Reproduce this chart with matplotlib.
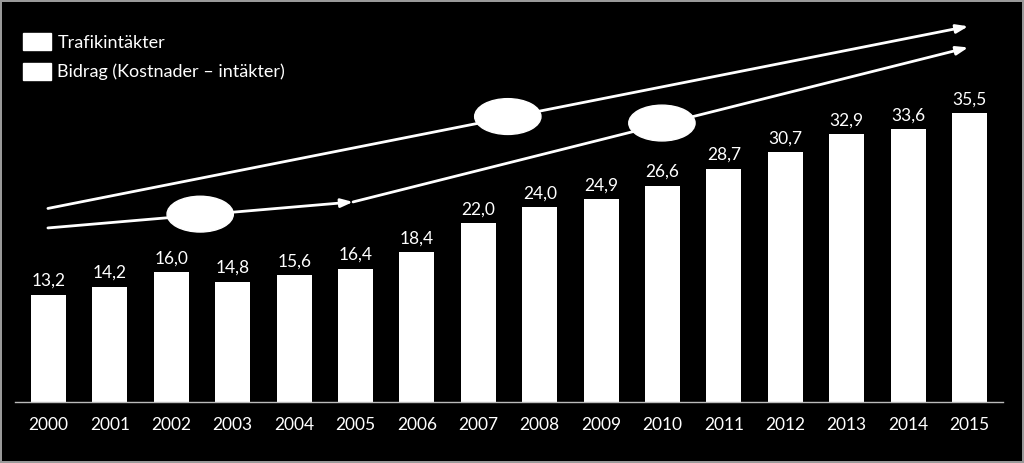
import matplotlib
matplotlib.use("Agg")
import matplotlib.pyplot as plt
from matplotlib.patches import Ellipse, Patch

plt.rcParams['font.family'] = ['Lato', 'DejaVu Sans']

# data
years = ['2000', '2001', '2002', '2003', '2004', '2005', '2006', '2007',
         '2008', '2009', '2010', '2011', '2012', '2013', '2014', '2015']
values = [13.2, 14.2, 16.0, 14.8, 15.6, 16.4, 18.4, 22.0,
          24.0, 24.9, 26.6, 28.7, 30.7, 32.9, 33.6, 35.5]
value_labels = ['13,2', '14,2', '16,0', '14,8', '15,6', '16,4', '18,4', '22,0',
                '24,0', '24,9', '26,6', '28,7', '30,7', '32,9', '33,6', '35,5']
legend_labels = ['Trafikintäkter', 'Bidrag (Kostnader – intäkter)']

fig = plt.figure(figsize=(10.24, 4.63), dpi=100, facecolor='black')
fig.patch.set_edgecolor('#999999')
fig.patch.set_linewidth(1.5)

ax = fig.add_axes([15 / 1024, 61 / 463, 988 / 1024, 392 / 463])
ax.set_facecolor('black')

x = list(range(len(years)))
ax.bar(x, values, width=0.57, color='white', zorder=2)

for xi, v, lab in zip(x, values, value_labels):
    ax.annotate(lab, (xi, v), xytext=(0, 4), textcoords='offset points',
                ha='center', va='bottom', color='white', fontsize=12.5)

ax.set_xlim(-0.546, 15.545)
ax.set_ylim(0, 48.2)
ax.set_xticks(x)
ax.set_xticklabels(years, color='white', fontsize=12.5)
ax.tick_params(axis='x', length=0, pad=11)
ax.set_yticks([])
for side in ['top', 'right', 'left']:
    ax.spines[side].set_visible(False)
ax.spines['bottom'].set_color('#bbbbbb')
ax.spines['bottom'].set_linewidth(1)

# trend arrows
arrow = dict(arrowstyle='-|>,head_length=0.7,head_width=0.25', color='white', lw=2,
             shrinkA=0, shrinkB=0)
ax.annotate('', xy=(14.98, 46.2), xytext=(-0.01, 23.8), arrowprops=arrow)
ax.annotate('', xy=(4.96, 24.6), xytext=(-0.01, 21.4), arrowprops=arrow)
ax.annotate('', xy=(14.98, 43.6), xytext=(4.96, 24.6), arrowprops=arrow)

# ellipses
for cx, cy in [(2.47, 23.1), (7.48, 35.1), (9.99, 34.3)]:
    ax.add_patch(Ellipse((cx, cy), 1.08, 4.4, facecolor='white',
                         edgecolor='white', zorder=3))

handles = [Patch(facecolor='white', edgecolor='white') for _ in legend_labels]
leg = fig.legend(handles, legend_labels, loc='upper left',
                 bbox_to_anchor=(23 / 1024, 1 - 33 / 463), frameon=False,
                 fontsize=13, handlelength=1.55, handleheight=1.1,
                 handletextpad=0.35, labelspacing=0.65, borderpad=0,
                 borderaxespad=0)
for t in leg.get_texts():
    t.set_color('white')

fig.savefig('out.png', dpi=100, facecolor=fig.get_facecolor(),
            edgecolor=fig.patch.get_edgecolor())
